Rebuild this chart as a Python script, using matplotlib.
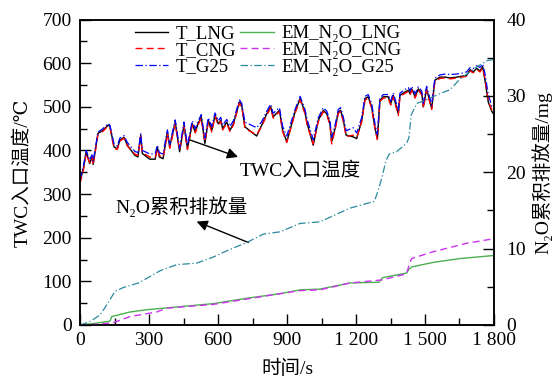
"""TWC inlet temperature and cumulative N2O emission for LNG / CNG / G25."""

import matplotlib

matplotlib.use("Agg")
import matplotlib.pyplot as plt
from matplotlib.ticker import MultipleLocator

# ----------------------------------------------------------------
# Data
# ----------------------------------------------------------------
t_temp = [
    0, 15, 27, 42, 52, 57, 78, 100, 122, 130, 148, 162, 173, 191, 206,
    238, 252, 264, 271, 303, 327, 336, 345, 361, 380, 390, 414, 433, 452,
    467, 488, 501, 513, 527, 543, 558, 573, 587, 601, 612, 620, 638, 652,
    667, 693, 703, 717, 768, 790, 812, 829, 840, 867, 881, 899, 935, 957,
    978, 988, 1014, 1036, 1058, 1073, 1087, 1094, 1109, 1123, 1133, 1145,
    1157, 1188, 1203, 1225, 1239, 1253, 1268, 1283, 1293, 1304, 1319, 1340,
    1351, 1362, 1384, 1391, 1413, 1428, 1435, 1442, 1457, 1471, 1486, 1493,
    1507, 1529, 1543, 1565, 1587, 1609, 1638, 1660, 1681, 1696, 1710, 1725,
    1739, 1751, 1761, 1775, 1790, 1800,
]
T_LNG = [
    328, 360, 397, 370, 385, 368, 439, 446, 458, 455, 408, 404, 423, 430, 412,
    389, 385, 435, 393, 380, 380, 408, 385, 381, 442, 408, 465, 397, 458,
    404, 461, 442, 461, 477, 416, 469, 446, 481, 461, 469, 450, 465, 446,
    461, 511, 503, 454, 433, 458, 484, 500, 477, 492, 446, 420, 488, 519,
    488, 461, 412, 469, 492, 484, 461, 420, 450, 488, 492, 469,
    435, 431, 427, 469, 519, 523, 500, 450, 427, 515, 523, 523,
    507, 526, 484, 526, 534, 538, 530, 541, 523, 541, 530, 500,
    541, 496, 561, 568, 568, 566, 568, 570, 572, 585, 580, 588,
    582, 592, 560, 511, 490, 482,
]
T_CNG = [
    325, 356, 392, 372, 384, 366, 437, 444, 456, 453, 405, 402, 421, 428, 410,
    392, 388, 432, 395, 385, 384, 404, 388, 384, 438, 405, 460, 400, 455,
    402, 458, 440, 458, 474, 420, 466, 442, 478, 458, 467, 447, 462, 443,
    458, 508, 500, 450, 436, 455, 481, 497, 474, 489, 443, 418, 485, 516,
    484, 457, 415, 466, 489, 481, 458, 415, 447, 485, 489, 466,
    432, 435, 430, 466, 515, 520, 497, 447, 425, 512, 520, 520,
    504, 523, 480, 523, 531, 535, 527, 538, 520, 538, 527, 497,
    538, 494, 558, 565, 566, 564, 566, 568, 570, 582, 578, 585,
    580, 589, 563, 515, 493, 486,
]
T_G25 = [
    333, 365, 400, 378, 390, 375, 442, 450, 462, 458, 415, 410, 428, 434, 418,
    398, 395, 438, 400, 392, 392, 412, 395, 392, 447, 414, 470, 405, 465,
    412, 468, 450, 466, 482, 428, 475, 455, 486, 468, 476, 458, 471, 455,
    468, 516, 508, 465, 452, 466, 490, 506, 485, 498, 455, 433, 494, 524,
    494, 470, 425, 475, 498, 490, 468, 430, 458, 494, 498, 476,
    445, 452, 440, 476, 524, 528, 508, 460, 437, 520, 528, 528,
    513, 532, 492, 531, 540, 544, 536, 547, 530, 546, 536, 508,
    547, 505, 566, 573, 575, 574, 575, 577, 580, 590, 588, 594,
    590, 598, 575, 528, 502, 494,
]

t_em_lng = [0, 60, 130, 138, 217, 290, 435, 580, 725, 870, 957, 1043,
            1174, 1300, 1315, 1333, 1420, 1430, 1442, 1536, 1652, 1800]
EM_N2O_LNG = [0, 0.2, 0.5, 1.1, 1.7, 2.0, 2.4, 2.8, 3.5, 4.1, 4.6, 4.7,
              5.5, 5.6, 6.2, 6.3, 6.8, 7.3, 7.6, 8.2, 8.7, 9.1]

t_em_cng = [0, 80, 145, 217, 333, 377, 580, 725, 870, 957, 1043, 1174,
            1312, 1420, 1432, 1442, 1536, 1681, 1800]
EM_N2O_CNG = [0, 0.1, 0.3, 1.1, 1.7, 2.2, 2.7, 3.4, 4.1, 4.5, 4.6, 5.5,
              5.9, 6.7, 8.0, 8.7, 9.6, 10.7, 11.3]

t_em_g25 = [0, 40, 87, 120, 152, 188, 254, 290, 348, 420, 507, 580, 652,
            725, 797, 870, 957, 1043, 1174, 1280, 1295, 1312, 1330, 1345,
            1377, 1420, 1430, 1440, 1464, 1507, 1565, 1609, 1652, 1725,
            1770, 1800]
EM_N2O_G25 = [0, 0.4, 1.3, 2.8, 4.4, 4.9, 5.5, 6.1, 7.1, 7.9, 8.1, 8.9, 9.9,
              10.8, 11.9, 12.2, 13.3, 13.5, 15.3, 16.2, 17.5, 19.2, 21.5, 22.4,
              22.7, 23.8, 24.5, 27.5, 29.0, 29.5, 30.3, 30.8, 32.2, 33.8,
              34.6, 34.8]

x_ticks = [0, 300, 600, 900, 1200, 1500, 1800]
x_ticklabels = ["0", "300", "600", "900", "1 200", "1 500", "1 800"]

# ----------------------------------------------------------------
# Style
# ----------------------------------------------------------------
plt.rcParams["font.family"] = ["Liberation Serif", "DejaVu Serif",
                               "Noto Sans CJK SC"]
FS = 14

fig = plt.figure(figsize=(5.58, 3.81), dpi=100)
fig.patch.set_facecolor("white")
ax = fig.add_axes([0.1434, 0.147, 0.7419, 0.8018])
ax2 = ax.twinx()

h1, = ax.plot(t_temp, T_LNG, color="black", lw=1.0, label="T_LNG")
h2, = ax.plot(t_temp, T_CNG, color="#ff0000", lw=1.0, ls=(0, (5, 3)),
              label="T_CNG")
h3, = ax.plot(t_temp, T_G25, color="#0000ff", lw=0.9,
              ls=(0, (6, 2, 1, 2)), label="T_G25")

h4, = ax2.plot(t_em_lng, EM_N2O_LNG, color="#4caf50", lw=1.0,
               label="EM_N₂O_LNG")
h5, = ax2.plot(t_em_cng, EM_N2O_CNG, color="#cc33ee", lw=1.0,
               ls=(0, (5, 3)), label="EM_N₂O_CNG")
h6, = ax2.plot(t_em_g25, EM_N2O_G25, color="#2a8a9e", lw=0.9,
               ls=(0, (6, 2, 1, 2)), label="EM_N₂O_G25")

ax.set_xlim(0, 1800)
ax.set_ylim(0, 700)
ax2.set_ylim(0, 40)

ax.set_xticks(x_ticks)
ax.set_xticklabels(x_ticklabels)
ax.xaxis.set_minor_locator(MultipleLocator(150))
ax.yaxis.set_major_locator(MultipleLocator(100))
ax.yaxis.set_minor_locator(MultipleLocator(50))
ax2.yaxis.set_major_locator(MultipleLocator(10))
ax2.yaxis.set_minor_locator(MultipleLocator(5))

for a in (ax, ax2):
    a.tick_params(which="major", direction="in", length=8, width=1.0,
                  labelsize=FS)
    a.tick_params(which="minor", direction="in", length=5, width=1.0)
    for sp in a.spines.values():
        sp.set_linewidth(1.1)
ax.tick_params(axis="x", which="both", top=False, pad=5)
ax.tick_params(axis="y", which="both", right=False, pad=6)
ax2.tick_params(axis="y", which="major", pad=9)

ax.set_xlabel("时间/s", fontsize=FS, labelpad=8)
ax.set_ylabel("TWC入口温度/℃", fontsize=FS, labelpad=8)
ax2.set_ylabel("N₂O累积排放量/mg", fontsize=FS, labelpad=4)

# annotations
ax.annotate("", xy=(687, 385), xytext=(478, 424),
            arrowprops=dict(arrowstyle="-|>", color="black", lw=1.0,
                            mutation_scale=16, shrinkA=0, shrinkB=0))
ax.text(696, 353, "TWC入口温度", fontsize=FS, ha="left", va="center")

ax.annotate("", xy=(507, 237), xytext=(732, 189),
            arrowprops=dict(arrowstyle="-|>", color="black", lw=1.0,
                            mutation_scale=16, shrinkA=0, shrinkB=0))
ax.text(152, 270, "N₂O累积排放量", fontsize=FS, ha="left", va="center")

ax2.legend([h1, h2, h3, h4, h5, h6],
           [h.get_label() for h in (h1, h2, h3, h4, h5, h6)],
           ncol=2, loc="upper left", bbox_to_anchor=(0.10, 1.025),
           frameon=False, fontsize=13.5, handlelength=1.8,
           handletextpad=0.4, columnspacing=0.2, labelspacing=-0.02,
           borderpad=0.2)

fig.savefig("out.png", dpi=100, facecolor="white")
plt.close(fig)
